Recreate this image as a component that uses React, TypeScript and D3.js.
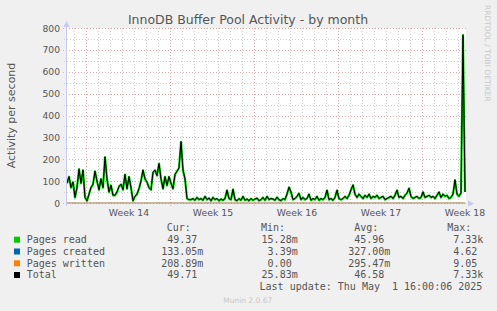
import React, { useEffect } from 'react';
import * as d3 from 'd3';

const W = 497;
const H = 311;

// time domain (UTC)
const startTime = new Date(Date.UTC(2025, 2, 29, 8, 0, 0));
const endTime = new Date(Date.UTC(2025, 4, 1, 16, 0, 0));
const firstOffsetHours = 2;
const stepHours = 4;

// Pages read per second, one value every 4 hours
const pagesRead = [
  90, 120, 70, 95, 25, 70, 155, 90, 150, 25,
  10, 40, 70, 85, 145, 100, 60, 110, 70, 210,
  110, 50, 80, 35, 35, 50, 75, 85, 60, 130,
  65, 120, 70, 10, 30, 40, 65, 100, 150, 110,
  95, 70, 60, 140, 150, 125, 180, 110, 65, 120,
  80, 120, 90, 65, 130, 145, 160, 280, 150, 110,
  20, 15, 15, 20, 12, 25, 15, 20, 12, 30,
  15, 22, 10, 25, 15, 20, 10, 18, 12, 20,
  58, 20, 15, 62, 15, 10, 20, 12, 30, 12,
  18, 10, 20, 12, 18, 22, 10, 15, 25, 12,
  30, 15, 20, 18, 12, 26, 15, 10, 20, 15,
  40, 72, 50, 15, 20, 30, 44, 15, 25, 15,
  20, 40, 12, 20, 15, 30, 12, 20, 15, 25,
  58, 15, 20, 12, 25, 58, 20, 15, 20, 30,
  20, 35, 60, 82, 40, 25, 40, 30, 20, 35,
  25, 40, 20, 30, 25, 35, 20, 25, 30, 15,
  20, 25, 30, 20, 35, 58, 25, 30, 20, 35,
  45, 67, 30, 20, 25, 30, 20, 25, 50, 25,
  30, 35, 25, 30, 20, 35, 50, 25, 40, 30,
  35, 20, 25, 40, 105, 40, 30, 45, 768, 50,
];

// daily values (small)
const pagesCreatedDaily = [
  0.3, 0.2, 0.4, 0.3, 0.5, 0.3, 0.2, 0.4, 0.3, 0.3,
  0.2, 0.3, 0.4, 0.3, 0.2, 0.3, 0.3, 0.4, 0.3, 0.2,
  0.3, 0.4, 0.3, 0.3, 0.2, 0.3, 0.4, 0.3, 0.3, 0.4,
  0.3, 0.2, 0.5, 0.3,
];
const pagesWrittenDaily = [
  0.3, 0.3, 0.2, 0.4, 0.3, 0.3, 0.2, 0.3, 0.4, 0.3,
  0.3, 0.2, 0.3, 0.3, 0.4, 0.3, 0.2, 0.3, 0.3, 0.3,
  0.4, 0.3, 0.2, 0.3, 0.3, 0.3, 0.4, 0.3, 0.2, 0.3,
  0.3, 0.3, 0.4, 0.2,
];

const yTicks = [0, 100, 200, 300, 400, 500, 600, 700, 800];
const yMinorTicks = [50, 150, 250, 350, 450, 550, 650, 750];
const weekLabels = ['Week 14', 'Week 15', 'Week 16', 'Week 17', 'Week 18'];
const weekStarts = [
  new Date(Date.UTC(2025, 2, 31)),
  new Date(Date.UTC(2025, 3, 7)),
  new Date(Date.UTC(2025, 3, 14)),
  new Date(Date.UTC(2025, 3, 21)),
  new Date(Date.UTC(2025, 3, 28)),
];

const legendNames = ['Pages read', 'Pages created', 'Pages written', 'Total'];
const legendColors = ['#00cc00', '#0066b3', '#ff8000', '#000000'];
const curVals = ['49.37', '133.05m', '208.89m', '49.71'];
const minVals = ['15.28m', '3.39m', '0.00', '25.83m'];
const avgVals = ['45.96', '327.00m', '295.47m', '46.58'];
const maxVals = ['7.33k', '4.62', '9.05', '7.33k'];

const PL = 66, PR = 466, PT = 28, PB = 203;

export default function App() {
  useEffect(() => {
    document.body.style.margin = '0';
  }, []);

  const x = d3.scaleUtc().domain([startTime, endTime]).range([PL, PR]);
  const y = d3.scaleLinear().domain([0, 800]).range([PB, PT]);

  const times = pagesRead.map(
    (_, i) => new Date(startTime.getTime() + (firstOffsetHours + stepHours * i) * 3600e3)
  );
  const dayIdx = (i: number) => Math.floor((firstOffsetHours + stepHours * i) / 24);
  const created = pagesRead.map((_, i) => pagesCreatedDaily[dayIdx(i)]);
  const written = pagesRead.map((_, i) => pagesWrittenDaily[dayIdx(i)]);
  const total = pagesRead.map((v, i) => v + created[i] + written[i]);

  const line = (vals: number[]) =>
    d3
      .line<number>()
      .x((_, i) => x(times[i]))
      .y((d) => y(d))(vals) as string;

  const days = d3.utcDay.range(startTime, endTime);
  const mondays = d3.utcMonday.range(startTime, endTime);

  const sans = 'DejaVu Sans, sans-serif';
  const mono = 'DejaVu Sans Mono, monospace';
  const textCol = '#555555';

  const rowY = [243, 254.8, 266.6, 278.3];

  const numPart = (s: string) => s.replace(/[a-zA-Z]$/, '');
  const sufPart = (s: string) => (/[a-zA-Z]$/.test(s) ? s.slice(-1) : '');

  const valCols = [
    { head: 'Cur:', hx: 166.7, end: 197.3, vals: curVals },
    { head: 'Min:', hx: 261, end: 291.7, vals: minVals },
    { head: 'Avg:', hx: 354.3, end: 384.3, vals: avgVals },
    { head: 'Max:', hx: 447.3, end: 477.3, vals: maxVals },
  ];

  return (
    <svg
      width={W}
      height={H}
      style={{ position: 'absolute', left: 0, top: 0, display: 'block' }}
      xmlns="http://www.w3.org/2000/svg"
    >
      <rect x={0} y={0} width={W} height={H} fill="#f0f0f0" />
      <rect x={PL} y={PT} width={PR - PL} height={PB - PT} fill="#ffffff" />

      {/* minor grid */}
      {yMinorTicks.map((t) => (
        <line
          key={'hm' + t}
          x1={PL - 2}
          x2={PR}
          y1={Math.round(y(t)) + 0.5}
          y2={Math.round(y(t)) + 0.5}
          stroke="#cfcfcf"
          strokeDasharray="1,2"
        />
      ))}
      {days.map((d) => (
        <line
          key={'vm' + d.getTime()}
          x1={Math.round(x(d)) + 0.5}
          x2={Math.round(x(d)) + 0.5}
          y1={PT}
          y2={PB + 2}
          stroke="#cfcfcf"
          strokeDasharray="1,2"
        />
      ))}
      {/* major grid */}
      {yTicks.map((t) => (
        <line
          key={'hM' + t}
          x1={PL - 3}
          x2={PR}
          y1={Math.round(y(t)) + 0.5}
          y2={Math.round(y(t)) + 0.5}
          stroke="#e8a8a8"
          strokeDasharray="1,2"
        />
      ))}
      {mondays.map((d) => (
        <line
          key={'vM' + d.getTime()}
          x1={Math.round(x(d)) + 0.5}
          x2={Math.round(x(d)) + 0.5}
          y1={PT}
          y2={PB + 3}
          stroke="#e8a8a8"
          strokeDasharray="1,2"
        />
      ))}

      {/* y tick labels */}
      {yTicks.map((t) => (
        <text
          key={'yl' + t}
          x={60}
          y={y(t) + 3.5}
          textAnchor="end"
          fontFamily={sans}
          fontSize={9.2}
          fill={textCol}
        >
          {t}
        </text>
      ))}
      {/* week labels */}
      {weekStarts.map((d, i) => (
        <text
          key={'wl' + i}
          x={x(new Date(d.getTime() + 3.5 * 86400e3)) + 1}
          y={216}
          textAnchor="middle"
          fontFamily={sans}
          fontSize={9.3}
          fill={textCol}
        >
          {weekLabels[i]}
        </text>
      ))}

      {/* series */}
      <path d={line(pagesRead)} fill="none" stroke="#00cc00" strokeWidth={2.2} strokeLinejoin="round" />
      <path d={line(created)} fill="none" stroke="#0066b3" strokeWidth={1} strokeOpacity={0.5} />
      <path d={line(written)} fill="none" stroke="#ff8000" strokeWidth={1} strokeOpacity={0.55} />
      <path d={line(total)} fill="none" stroke="#000000" strokeWidth={1} strokeLinejoin="round" />

      {/* axes */}
      <line x1={PL + 0.5} x2={PL + 0.5} y1={PB + 3} y2={PT - 4} stroke="#c8c8f4" strokeWidth={1} />
      <polygon points={`${PL - 2.5},${PT - 1} ${PL + 3.5},${PT - 1} ${PL + 0.5},${PT - 7}`} fill="#c8c8f4" />
      <polygon points={`${PR + 2},${PB - 2.5} ${PR + 2},${PB + 3.5} ${PR + 8},${PB + 0.5}`} fill="#c8c8f4" />

      {/* title */}
      <text x={248} y={24} textAnchor="middle" fontFamily={sans} fontSize={12.5} fill="#555555">
        InnoDB Buffer Pool Activity - by month
      </text>
      {/* y axis label */}
      <text
        transform={`translate(15, ${(PT + PB) / 2}) rotate(-90)`}
        textAnchor="middle"
        fontFamily={sans}
        fontSize={11}
        fill={textCol}
      >
        Activity per second
      </text>
      {/* watermark */}
      <text
        transform="translate(485, 5) rotate(90)"
        textAnchor="start"
        fontFamily={sans}
        fontSize={7.5}
        fill="#c8c8c8"
      >
        RRDTOOL / TOBI OETIKER
      </text>

      {/* legend */}
      {valCols.map((c) => (
        <text key={c.head} x={c.hx} y={231} fontFamily={mono} fontSize={10} fill={textCol}>
          {c.head}
        </text>
      ))}
      {legendNames.map((n, i) => (
        <g key={n}>
          <rect x={14} y={rowY[i] - 6.3} width={6} height={6} fill={legendColors[i]} />
          <text x={26.7} y={rowY[i]} fontFamily={mono} fontSize={10} fill={textCol}>
            {n}
          </text>
          {valCols.map((c) => (
            <g key={c.head}>
              <text x={c.end} y={rowY[i]} textAnchor="end" fontFamily={mono} fontSize={10} fill={textCol}>
                {numPart(c.vals[i])}
              </text>
              <text x={c.end} y={rowY[i]} fontFamily={mono} fontSize={10} fill={textCol}>
                {sufPart(c.vals[i])}
              </text>
            </g>
          ))}
        </g>
      ))}
      <text
        x={482.3}
        y={290}
        textAnchor="end"
        fontFamily={mono}
        fontSize={10}
        fill={textCol}
        style={{ whiteSpace: 'pre' }}
      >
        {'Last update: Thu May  1 16:00:06 2025'}
      </text>
      <text x={247.7} y={303} textAnchor="middle" fontFamily={sans} fontSize={7.5} fill="#c8c8c8">
        Munin 2.0.67
      </text>
    </svg>
  );
}
